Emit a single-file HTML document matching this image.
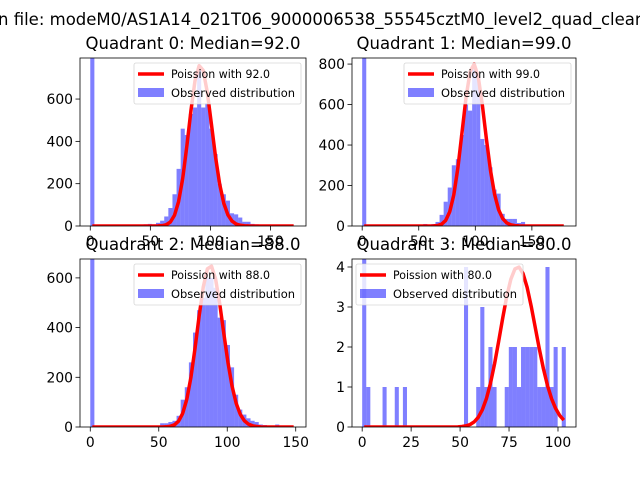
<!DOCTYPE html>
<html><head><meta charset="utf-8"><style>
body{margin:0;background:#fff;}
svg{display:block;font-family:"DejaVu Sans","Liberation Sans",sans-serif;}
</style></head><body>
<svg id="fig" width="640" height="480" viewBox="0 0 640 480">
<rect width="640" height="480" fill="#fff"/>
<text x="-2" y="25" font-size="16.5" fill="#000">n file: modeM0/AS1A14_021T06_9000006538_55545cztM0_level2_quad_clean</text>
</svg>
<script>
// ---- data ----
const q0Counts = [1500,0,0,0,0,0,0,0,0,0,0,0,5,8,10,8,15,25,45,85,150,270,460,430,530,560,740,560,580,460,340,200,150,120,60,55,40,20,20,10,8,5,0,0,0,0,0,0,0,0];
const q1Counts = [1500,0,0,0,0,0,0,0,0,0,0,0,0,0,0,10,5,10,20,55,120,190,300,330,450,600,570,790,740,430,400,290,180,160,60,35,35,35,15,20,5,0,0,0,0,0,0,0,0,0];
const q2Counts = [1500,0,0,0,0,0,0,0,0,0,0,0,0,0,0,0,0,15,15,20,25,45,110,160,260,380,470,520,600,600,560,440,430,330,240,130,70,50,35,25,20,10,8,5,5,10,3,0,0,0];
const q3Counts = [5,1,0,0,0,1,0,0,1,0,1,0,0,0,0,0,0,0,0,0,0,0,0,0,0,4,0,0,1,3,1,2,1,0,0,1,2,2,1,2,2,2,2,1,1,4,1,2,0,2];
const dataMax = [171,180,150,104];
const medians = [92.0,99.0,88.0,80.0];
const curvePeaks = [760,800,650,4.0];
const yMax = [794,830,676,4.2];
const yTicks = [[0,200,400,600],[0,200,400,600,800],[0,200,400,600],[0,1,2,3,4]];
const xTicks = [[0,50,100,150],[0,50,100,150],[0,50,100,150],[0,25,50,75,100]];
const titles = ["Quadrant 0: Median=92.0","Quadrant 1: Median=99.0","Quadrant 2: Median=88.0","Quadrant 3: Median=80.0"];
const legendLeft = [false,false,false,true];

const allCounts=[q0Counts,q1Counts,q2Counts,q3Counts];
const boxes=[[80,58,306,226],[352,58,576,226],[80,259,306,427],[352,259,576,427]];
const NS="http://www.w3.org/2000/svg";
const svg=document.getElementById('fig');
function mk(tag,attrs,parent){const e=document.createElementNS(NS,tag);for(const k in attrs)e.setAttribute(k,attrs[k]);(parent||svg).appendChild(e);return e;}
function logPois(k,m){
  const x=k+1; const lg=(x-0.5)*Math.log(x)-x+0.5*Math.log(2*Math.PI)+1/(12*x);
  return k*Math.log(m)-m-lg;}

for(let p=0;p<4;p++){
  const [L,T,R,B]=boxes[p];
  const counts=allCounts[p];
  const dm=dataMax[p], pad=dm*0.05, xmin=-pad, xmax=dm+pad;
  const X=v=>L+(v-xmin)/(xmax-xmin)*(R-L);
  const Y=v=>B-(v/yMax[p])*(B-T);
  const g=mk('g',{});
  
  
  const clipId='clip'+p;
  const cp=mk('clipPath',{id:clipId},g);mk('rect',{x:L,y:T,width:R-L,height:B-T},cp);
  const plot=mk('g',{'clip-path':'url(#'+clipId+')'},g);
  const n=counts.length, w=dm/n;
  for(let i=0;i<n;i++){
    if(counts[i]<=0)continue;
    const x0=X(i*w),x1=X((i+1)*w),yt=Y(counts[i]);
    const r=mk('rect',{x:x0,y:yt,width:x1-x0,height:B-yt,fill:'#0000ff','fill-opacity':0.5},plot);
    
    
  }
  const m=medians[p], peak=Math.exp(logPois(m,m));
  let pts=[];
  for(let i=0;i<n;i++){const c=(i+0.5)*w;const v=Math.exp(logPois(c,m))/peak*curvePeaks[p];pts.push(X(c).toFixed(2)+','+Y(v).toFixed(2));}
  const pl=mk('polyline',{points:pts.join(' '),fill:'none',stroke:'#ff0000','stroke-width':3.5,'stroke-linejoin':'round'},plot);
  
  
  mk('rect',{x:L,y:T,width:R-L,height:B-T,fill:'none',stroke:'#000','stroke-width':0.8},g);
  yTicks[p].forEach(t=>{const y=Y(t);mk('line',{x1:L,x2:L-4.5,y1:y,y2:y,stroke:'#000','stroke-width':0.8},g);
    const tx=mk('text',{x:L-7,y:y+5,'text-anchor':'end','font-size':13.9},g);tx.textContent=t;
    
    });
  xTicks[p].forEach(t=>{const x=X(t);mk('line',{x1:x,x2:x,y1:B,y2:B+4.5,stroke:'#000','stroke-width':0.8},g);
    const tx=mk('text',{x:x,y:B+20,'text-anchor':'middle','font-size':13.9},g);tx.textContent=t;
    
    });
  const tt=mk('text',{x:(L+R)/2,y:T-9,'text-anchor':'middle','font-size':16.5},g);tt.textContent=titles[p];
  
  
  const lw=167, lh=41;
  const lx=legendLeft[p]?L+4:R-lw-5, ly=T+5;
  const lg=mk('g',{},g);
  
  
  mk('rect',{x:lx,y:ly,width:lw,height:lh,rx:2,fill:'#fff','fill-opacity':0.8,stroke:'#ccc','stroke-opacity':0.8,'stroke-width':0.8},lg);
  mk('line',{x1:lx+4,x2:lx+30,y1:ly+11,y2:ly+11,stroke:'#ff0000','stroke-width':3.5},lg);
  mk('rect',{x:lx+4,y:ly+25,width:26,height:9,fill:'#0000ff','fill-opacity':0.5},lg);
  const t1=mk('text',{x:lx+37,y:ly+15,'font-size':11.4,'textLength':99,'lengthAdjust':'spacingAndGlyphs'},lg);t1.textContent='Poission with '+medians[p].toFixed(1);
  const t2=mk('text',{x:lx+37,y:ly+34,'font-size':11.4,'textLength':124,'lengthAdjust':'spacingAndGlyphs'},lg);t2.textContent='Observed distribution';
}
</script>
</body></html>
